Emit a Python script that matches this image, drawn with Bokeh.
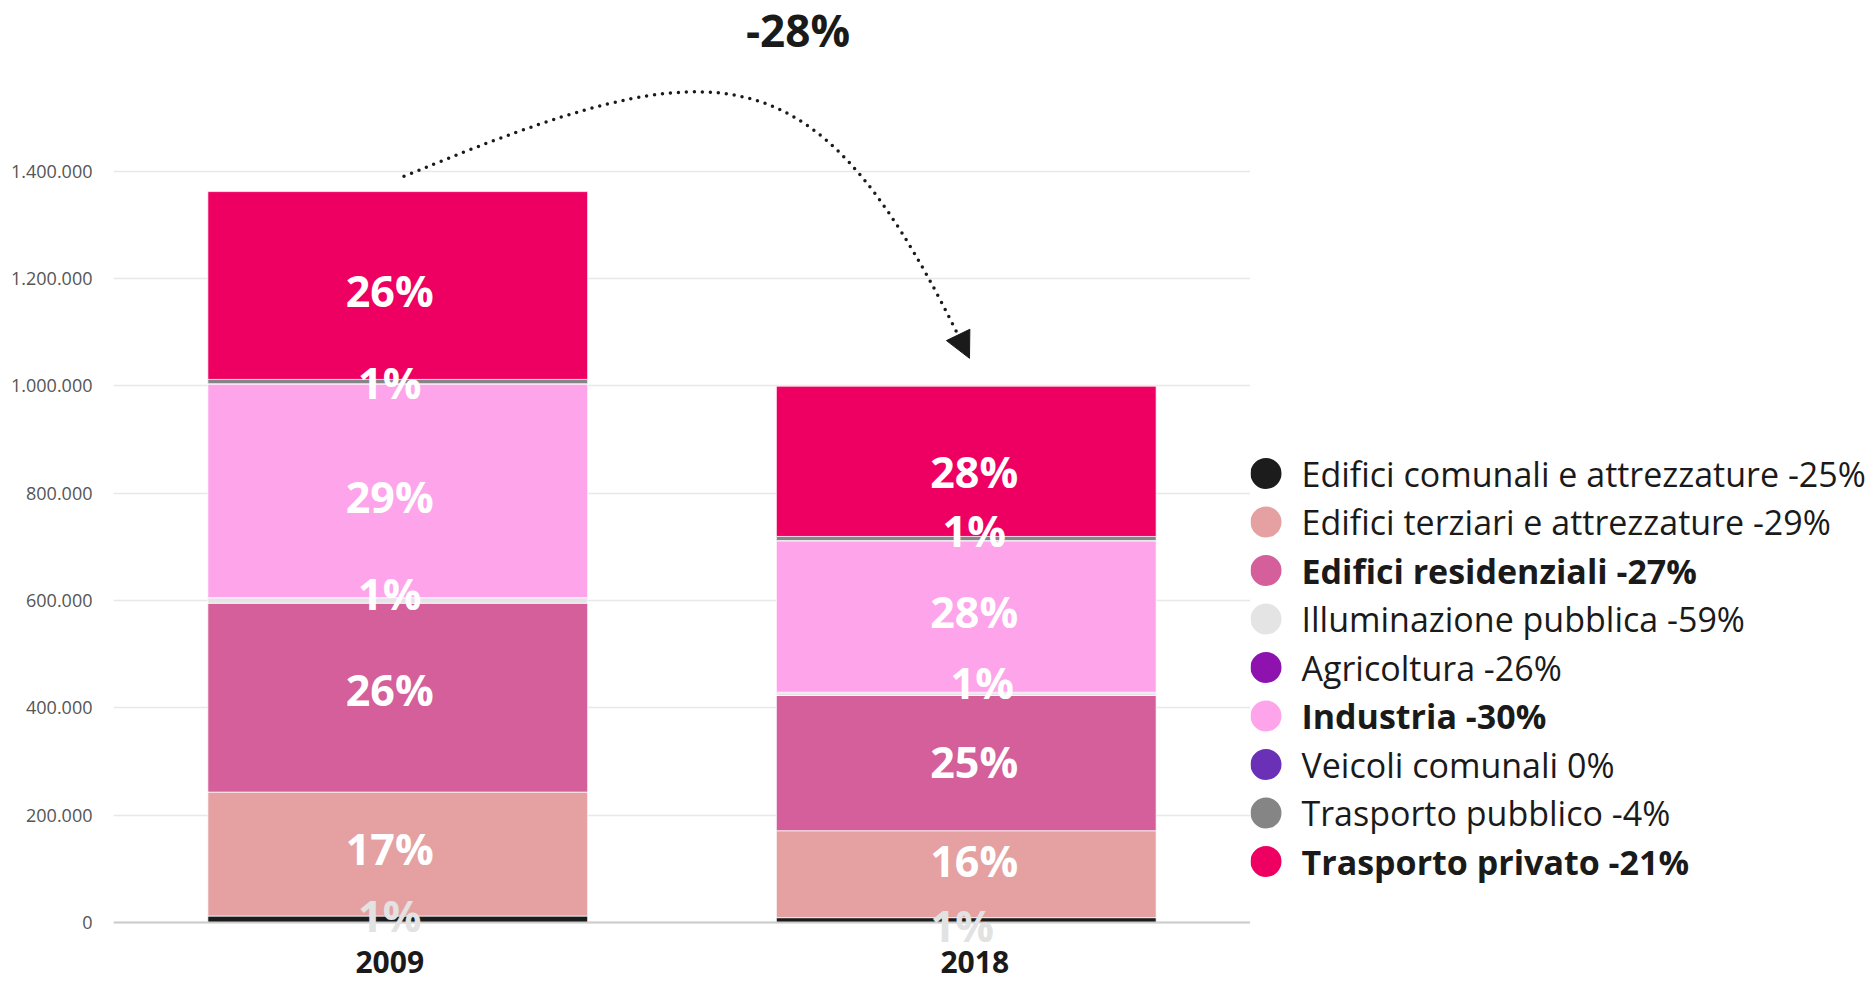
from bokeh.plotting import figure
from bokeh.models import (Range1d, FixedTicker, ColumnDataSource, Label, LabelSet,
                          Arrow, NormalHead, Span)
from bokeh.layouts import row
from bokeh.embed import file_html
from bokeh.resources import INLINE
from bokeh.core.properties import value

# ---------------- data ----------------
years = ["2009", "2018"]
sectors = [
    "Edifici comunali e attrezzature",
    "Edifici terziari e attrezzature",
    "Edifici residenziali",
    "Illuminazione pubblica",
    "Agricoltura",
    "Industria",
    "Veicoli comunali",
    "Trasporto pubblico",
    "Trasporto privato",
]
changes = ["-25%", "-29%", "-27%", "-59%", "-26%", "-30%", "0%", "-4%", "-21%"]
bold_items = [False, False, True, False, False, True, False, False, True]
v2009 = [12000, 231000, 352000, 9000, 1500, 398000, 500, 8000, 350000]
v2018 = [9000, 162000, 252000, 5100, 1100, 282000, 500, 7700, 280000]
total_change = "-28%"
y_ticks = [0, 200000, 400000, 600000, 800000, 1000000, 1200000, 1400000]

# ---------------- styles ----------------
colors = ["#1c1c1c", "#e5a1a1", "#d45f9a", "#e4e4e4", "#8e12ad",
          "#fea4ea", "#6a30b5", "#858585", "#ee0062"]
label_colors = ["#e2e2e2", "white", "white", "white", "white",
                "white", "white", "white", "white"]
# label nudges in screen px (dy: positive = down), per (year index, sector index)
label_dx = {0: {}, 1: {0: -4, 3: 16}}
label_dx_default = {0: -8, 1: 8}
label_dy = {0: {0: -4, 1: -6, 2: -8, 3: -7, 5: 6, 7: 1, 8: 5},
            1: {0: 5, 1: -14, 2: -2, 3: -12, 5: -5, 7: -8, 8: 10}}
year_tick_pos = [-0.014, 1.015]
FONT = "Open Sans"
H = 980
BOTTOM = 35

p = figure(width=1250, height=H, x_range=Range1d(-0.5, 1.5),
           y_range=Range1d(-42860, 1718100), output_backend="svg",
           toolbar_location=None, min_border_left=113, min_border_right=0,
           min_border_top=0, min_border_bottom=BOTTOM)
p.outline_line_color = None
p.xgrid.visible = False
p.ygrid.grid_line_color = "#e8e8e8"
p.ygrid.grid_line_width = 1.5
p.ygrid.ticker = FixedTicker(ticks=y_ticks)

p.yaxis.ticker = FixedTicker(ticks=y_ticks)
p.yaxis.major_label_overrides = {t: f"{t:,}".replace(",", ".") for t in y_ticks}
p.yaxis.axis_line_color = None
p.yaxis.major_tick_line_color = None
p.yaxis.minor_tick_line_color = None
p.yaxis.major_tick_out = 0
p.yaxis.major_label_standoff = 21
p.yaxis.major_label_text_font = FONT
p.yaxis.major_label_text_font_size = "18px"
p.yaxis.major_label_text_color = "#555555"

p.xaxis.ticker = FixedTicker(ticks=year_tick_pos)
p.xaxis.major_label_overrides = {pos: y for pos, y in zip(year_tick_pos, years)}
p.xaxis.axis_line_color = None
p.xaxis.major_tick_line_color = None
p.xaxis.minor_tick_line_color = None
p.xaxis.major_tick_out = 0
p.xaxis.major_label_standoff = 5
p.xaxis.major_label_text_font = FONT
p.xaxis.major_label_text_font_style = "bold"
p.xaxis.major_label_text_font_size = "30px"
p.xaxis.major_label_text_color = "#1a1a1a"
# baseline (axis line) at value 0
p.add_layout(Span(location=0, dimension="width", line_color="#cccccc", line_width=2))

# stacked bars
data = {"x": list(range(len(years)))}
for i, s in enumerate(sectors):
    data[s] = [v2009[i], v2018[i]]
src = ColumnDataSource(data)
p.vbar_stack(sectors, x="x", width=0.668, color=colors, source=src,
             line_color="white", line_width=1, line_alpha=0.7)

# percentage labels
lx, ly, lt, lc, ldx, ldy = [], [], [], [], [], []
for j, vals in enumerate([v2009, v2018]):
    total = sum(vals)
    bottom = 0
    for i, v in enumerate(vals):
        pct = round(100 * v / total)
        if pct >= 1:
            lx.append(j)
            ly.append(bottom + v / 2)
            lt.append(f"{pct}%")
            lc.append(label_colors[i])
            ldx.append(label_dx[j].get(i, label_dx_default[j]))
            ldy.append(-label_dy[j].get(i, 0))
        bottom += v
lab_src = ColumnDataSource(dict(x=lx, y=ly, text=lt, color=lc, dx=ldx, dy=ldy))
p.add_layout(LabelSet(x="x", y="y", text="text", text_color="color",
                      x_offset="dx", y_offset="dy", source=lab_src,
                      text_font=value(FONT), text_font_style="bold",
                      text_font_size="43px", text_align="center",
                      text_baseline="middle"))

# dotted curved arrow between the bars
p.bezier(x0=[0.011], y0=[1390500], x1=[1.0057], y1=[1051300],
         cx0=[0.58], cy0=[1639800], cx1=[0.74], cy1=[1638500],
         line_color="#1a1a1a", line_width=3.5, line_dash="0 8", line_cap="round")
p.add_layout(Arrow(end=NormalHead(size=26, fill_color="#1a1a1a", line_color="#1a1a1a"),
                   x_start=0.975, y_start=1118400, x_end=1.0057, y_end=1051300,
                   line_alpha=0))
p.add_layout(Label(x=0.704, y=1662700, text=total_change, text_font=FONT,
                   text_font_style="bold", text_font_size="44px", text_color="#1a1a1a",
                   text_align="center", text_baseline="middle"))

# ---------------- legend panel ----------------
LW = 622
FRAME_H = H - BOTTOM
lg = figure(width=LW, height=H, x_range=Range1d(0, LW), y_range=Range1d(FRAME_H, 0),
            output_backend="svg", toolbar_location=None, x_axis_type=None,
            y_axis_type=None, min_border_left=0, min_border_right=0,
            min_border_top=0, min_border_bottom=BOTTOM)
lg.outline_line_color = None
lg.grid.visible = False
row_y = [473 + 48.5 * i for i in range(len(sectors))]
lg.scatter(x=[15.5] * len(sectors), y=row_y, size=31, color=colors, line_color=None)
lg.text(x=[51] * len(sectors), y=row_y,
        text=[f"{s} {c}" for s, c in zip(sectors, changes)],
        text_font=value(FONT), text_font_size="34px", text_color="#1a1a1a",
        text_font_style=["bold" if b else "normal" for b in bold_items],
        text_align="left", text_baseline="middle")

layout = row(p, lg)
open("out.html", "w").write(file_html(layout, INLINE))
